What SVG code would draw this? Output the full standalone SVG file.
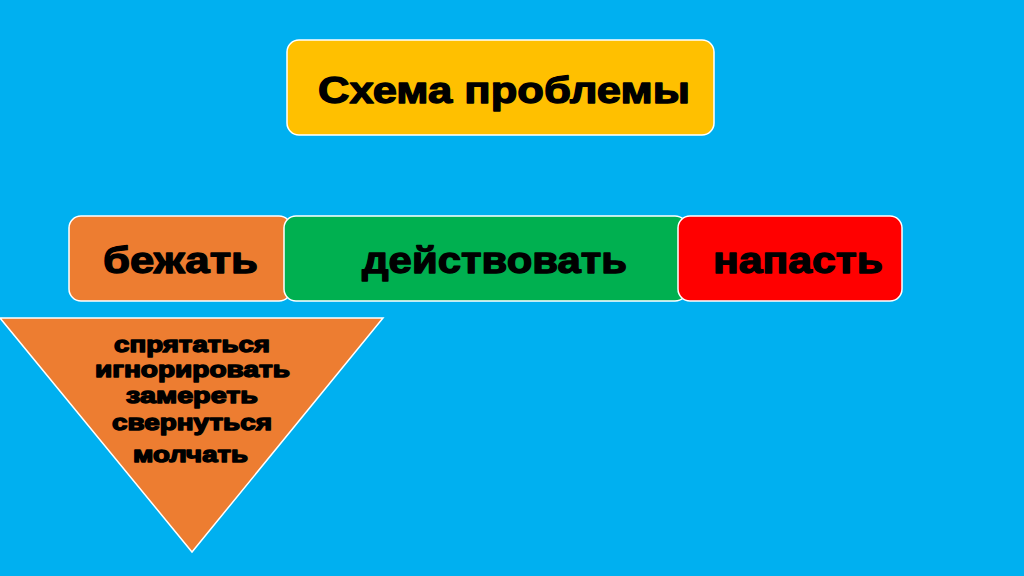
<svg xmlns="http://www.w3.org/2000/svg" width="1024" height="576" viewBox="0 0 1024 576">
<style>
.box{stroke:#ffffff;stroke-width:1.5}
.t{font-family:"Liberation Sans",Arial,sans-serif;font-weight:bold;fill:#000;stroke:#000;stroke-linejoin:round}
.big{font-size:37px;stroke-width:1.3}
.small{font-size:22px;stroke-width:1.4}
</style>
<rect x="0" y="0" width="1024" height="576" fill="#00B0F0"/>
<g id="title">
<rect class="box" x="287" y="40" width="427" height="95" rx="12" fill="#FFC000"/>
<text class="t big" x="318" y="103" textLength="372" lengthAdjust="spacingAndGlyphs">Схема проблемы</text>
</g>
<g id="run">
<rect class="box" x="69" y="216" width="222" height="85" rx="12" fill="#ED7D31"/>
<text class="t big" x="103" y="273" textLength="155" lengthAdjust="spacingAndGlyphs">бежать</text>
</g>
<g id="act">
<rect class="box" x="284" y="216" width="403" height="85" rx="12" fill="#00B050"/>
<text class="t big" x="362" y="273" textLength="265" lengthAdjust="spacingAndGlyphs">действовать</text>
</g>
<g id="attack">
<rect class="box" x="678" y="216" width="224" height="85" rx="12" fill="#FF0000"/>
<text class="t big" x="713" y="273" textLength="170" lengthAdjust="spacingAndGlyphs">напасть</text>
</g>
<g id="options">
<polygon class="box" points="0,318 383,318 192,552" fill="#ED7D31"/>
<text class="t small" x="114" y="352" textLength="156" lengthAdjust="spacingAndGlyphs">спрятаться</text>
<text class="t small" x="95" y="377" textLength="195" lengthAdjust="spacingAndGlyphs">игнорировать</text>
<text class="t small" x="126" y="403" textLength="132" lengthAdjust="spacingAndGlyphs">замереть</text>
<text class="t small" x="112" y="430" textLength="160" lengthAdjust="spacingAndGlyphs">свернуться</text>
<text class="t small" x="133" y="462" textLength="115" lengthAdjust="spacingAndGlyphs">молчать</text>
</g>
<g id="connectors"></g>
</svg>
